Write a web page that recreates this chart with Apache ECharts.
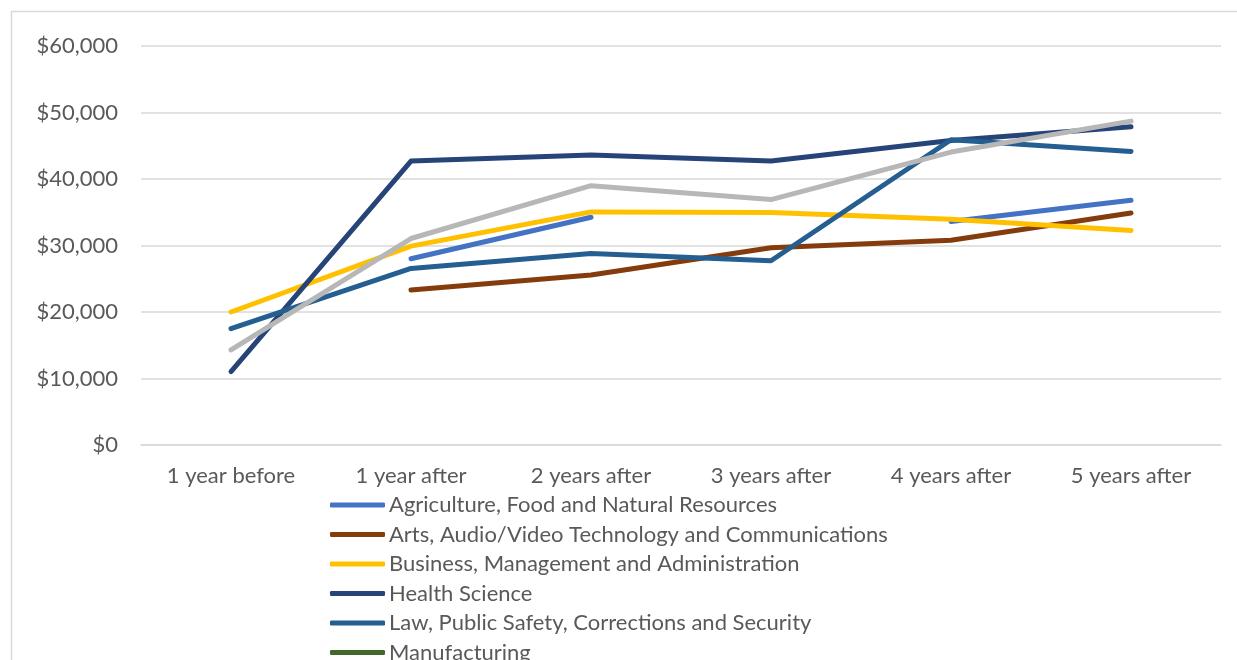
<!DOCTYPE html>
<html>
<head>
<meta charset="utf-8">
<script src="https://cdn.jsdelivr.net/npm/echarts@6/dist/echarts.min.js"></script>
<style>
  html, body { margin: 0; padding: 0; background: #ffffff; }
  #chart { width: 1237px; height: 660px; }
</style>
</head>
<body>
<div id="chart"></div>
<script>
// Median annual earnings by career cluster, before and after program completion
const categories = ['1 year before', '1 year after', '2 years after', '3 years after', '4 years after', '5 years after'];

const agriculture   = [null, 28000, 34250, null, 33600, 36800];
const arts          = [null, 23300, 25550, 29650, 30800, 34900];
const business      = [20000, 29900, 35050, 34950, 33950, 32250];
const healthScience = [11050, 42700, 43600, 42700, 45800, 47850];
const lawSafety     = [17500, 26550, 28800, 27700, 45900, 44150];
const manufacturing = [null, null, null, null, null, null];
const stem          = [14300, 31050, 39000, 36900, 44050, 48700];

const yTicks = { min: 0, max: 60000, interval: 10000 };

const seriesDefs = [
  { name: 'Agriculture, Food and Natural Resources', data: agriculture, color: '#4472C4' },
  { name: 'Arts, Audio/Video Technology and Communications', data: arts, color: '#843C0C' },
  { name: 'Business, Management and Administration', data: business, color: '#FFC000' },
  { name: 'Health Science', data: healthScience, color: '#264478' },
  { name: 'Law, Public Safety, Corrections and Security', data: lawSafety, color: '#255E91' },
  { name: 'Manufacturing', data: manufacturing, color: '#43682B' },
  { name: 'Science, Technology, Engineering and Mathematics', data: stem, color: '#B7B7B7' }
];

const textColor = '#595959';
const fontFamily = 'Lato, "Open Sans", sans-serif';

const chart = echarts.init(document.getElementById('chart'), null, { renderer: 'canvas' });

chart.setOption({
  animation: false,
  backgroundColor: '#ffffff',
  textStyle: { fontFamily: fontFamily },
  graphic: [{
    type: 'rect',
    shape: { x: 11.5, y: 11.5, width: 1400, height: 800 },
    style: { fill: 'none', stroke: '#D9D9D9', lineWidth: 1.5 },
    silent: true
  }],
  grid: { left: 141, right: 16, top: 46, bottom: 215, containLabel: false },
  xAxis: {
    type: 'category',
    data: categories,
    boundaryGap: true,
    axisLine: { show: true, lineStyle: { color: '#D9D9D9', width: 1.5 } },
    axisTick: { show: false },
    axisLabel: { color: textColor, fontSize: 22, fontFamily: fontFamily, margin: 19, lineHeight: 24 }
  },
  yAxis: {
    type: 'value',
    min: yTicks.min,
    max: yTicks.max,
    interval: yTicks.interval,
    axisLine: { show: false },
    axisTick: { show: false },
    splitLine: { lineStyle: { color: '#D9D9D9', width: 1.5 } },
    axisLabel: {
      color: textColor, fontSize: 22, fontFamily: fontFamily, margin: 23,
      formatter: v => '$' + v.toLocaleString('en-US')
    }
  },
  legend: {
    orient: 'vertical',
    left: 330,
    top: 493,
    height: 1000,
    padding: 0,
    itemWidth: 55,
    itemHeight: 5,
    itemGap: 5.5,
    icon: 'roundRect',
    textStyle: { color: textColor, fontSize: 22, fontFamily: fontFamily, lineHeight: 24, padding: [0, 0, 0, -1] },
    data: seriesDefs.map(s => ({ name: s.name, itemStyle: { color: s.color } }))
  },
  series: seriesDefs.map(s => ({
    name: s.name,
    type: 'line',
    data: s.data,
    connectNulls: false,
    showSymbol: false,
    symbol: 'none',
    color: s.color,
    lineStyle: { color: s.color, width: 5, cap: 'round', join: 'round' },
    itemStyle: { color: s.color }
  }))
});
</script>
</body>
</html>
